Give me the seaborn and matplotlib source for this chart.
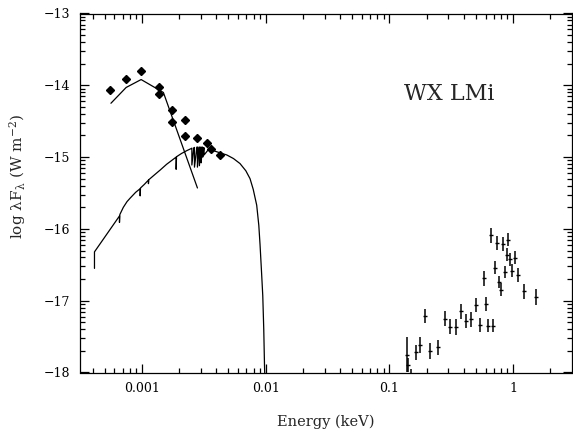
import numpy as np
import pandas as pd
import matplotlib
matplotlib.use("Agg")
import matplotlib.pyplot as plt
from matplotlib.ticker import FixedLocator, LogLocator, NullFormatter, FuncFormatter
import seaborn as sns

# optical / UV photometry (log E [keV], log lambda F_lambda)
opt_logE = [-3.256, -3.127, -3.006, -2.863, -2.863, -2.753, -2.753,
            -2.650, -2.648, -2.554, -2.473, -2.443, -2.370]
opt_logF = [-14.06, -13.91, -13.80, -14.02, -14.12, -14.35, -14.51,
            -14.49, -14.70, -14.73, -14.80, -14.89, -14.97]

# cyclotron-like fit through the optical points
fit_logE = [-3.250, -3.127, -3.006, -2.826, -2.551]
fit_logF = [-14.25, -14.03, -13.92, -14.10, -15.43]

# white dwarf model atmosphere (with absorption lines)
wd_logE = [-3.383, -3.383, -3.181, -3.181, -3.178, -3.150, -3.120, -3.094,
           -3.050, -3.014, -3.014, -3.011, -2.980, -2.947, -2.947, -2.944,
           -2.900, -2.852, -2.800, -2.723, -2.723, -2.720, -2.680, -2.637,
           -2.600, -2.596, -2.596, -2.580, -2.575, -2.575, -2.555, -2.551,
           -2.551, -2.538, -2.535, -2.535, -2.524, -2.521, -2.521, -2.511,
           -2.508, -2.508, -2.500, -2.497, -2.497, -2.460, -2.422, -2.370,
           -2.314, -2.260, -2.207, -2.160, -2.126, -2.100, -2.072, -2.055,
           -2.045, -2.033, -2.023, -2.015, -2.009, -2.004]
wd_logF = [-16.55, -16.32, -15.82, -15.91, -15.80, -15.70, -15.62, -15.57,
           -15.49, -15.44, -15.54, -15.43, -15.38, -15.32, -15.37, -15.315,
           -15.25, -15.18, -15.10, -15.00, -15.17, -14.995, -14.95, -14.91,
           -14.88, -14.875, -15.11, -14.87, -14.865, -15.14, -14.86, -14.86,
           -15.14, -14.86, -14.86, -15.12, -14.86, -14.86, -15.08, -14.86,
           -14.865, -15.00, -14.87, -14.87, -14.97, -14.89, -14.91, -14.94,
           -14.97, -15.02, -15.09, -15.19, -15.30, -15.45, -15.67, -15.95,
           -16.22, -16.60, -16.93, -17.40, -17.90, -18.20]

# X-ray spectrum points
xr_E = [0.1376, 0.1419, 0.150, 0.1637, 0.1784, 0.1934, 0.2137, 0.2478,
        0.2805, 0.3117, 0.3484, 0.380, 0.417, 0.4548, 0.4989, 0.5374,
        0.579, 0.601, 0.631, 0.6844, 0.6594, 0.7104, 0.7373, 0.765,
        0.794, 0.824, 0.855, 0.8877, 0.9158, 0.950, 0.9864, 1.030,
        1.103, 1.225, 1.522]
xr_logF = [-17.75, -17.90, -18.05, -17.72, -17.62, -17.21, -17.70, -17.65,
           -17.25, -17.36, -17.37, -17.15, -17.28, -17.26, -17.06, -17.34,
           -16.69, -17.05, -17.35, -17.35, -16.09, -16.54, -16.20, -16.74,
           -16.85, -16.21, -16.60, -16.36, -16.15, -16.42, -16.58, -16.40,
           -16.64, -16.87, -16.95]
xr_err = [0.25, 0.10, 0.10, 0.10, 0.11, 0.10, 0.11, 0.10,
          0.10, 0.10, 0.11, 0.11, 0.10, 0.10, 0.10, 0.10,
          0.10, 0.10, 0.09, 0.09, 0.10, 0.09, 0.10, 0.09,
          0.09, 0.10, 0.09, 0.09, 0.09, 0.09, 0.09, 0.09,
          0.10, 0.10, 0.11]

x_ticks = [0.001, 0.01, 0.1, 1]
x_ticklabels = ["0.001", "0.01", "0.1", "1"]
y_ticks = [-18, -17, -16, -15, -14, -13]

sns.set_theme(style="ticks")
plt.rcParams["font.family"] = ["DejaVu Serif"]
plt.rcParams["mathtext.fontset"] = "dejavuserif"
plt.rcParams["mathtext.default"] = "regular"

fig, ax = plt.subplots(figsize=(5.73, 4.33), dpi=100)
fig.subplots_adjust(left=80 / 573, right=572 / 573, top=1 - 13.5 / 433, bottom=1 - 372.5 / 433)
ax.set_xscale("log")
ax.set_yscale("log")

wd = pd.DataFrame({"E": 10 ** np.array(wd_logE), "F": 10 ** np.array(wd_logF)})
fit = pd.DataFrame({"E": 10 ** np.array(fit_logE), "F": 10 ** np.array(fit_logF)})
opt = pd.DataFrame({"E": 10 ** np.array(opt_logE), "F": 10 ** np.array(opt_logF)})

sns.lineplot(data=wd, x="E", y="F", sort=False, estimator=None, color="black", lw=0.9, ax=ax)
sns.lineplot(data=fit, x="E", y="F", sort=False, estimator=None, color="black", lw=0.9, ax=ax)
ax.plot(opt["E"], opt["F"], ls="none", marker="D", ms=4, color="black")

xf = 10 ** np.array(xr_logF)
lo = xf - 10 ** (np.array(xr_logF) - np.array(xr_err))
hi = 10 ** (np.array(xr_logF) + np.array(xr_err)) - xf
ax.errorbar(xr_E, xf, yerr=[lo, hi], fmt="_", ms=3, mew=1, color="black",
            ecolor="black", elinewidth=1.1, capsize=0)

ax.set_xlim(10 ** -3.5, 10 ** 0.476)
ax.set_ylim(1e-18, 1e-13)

ax.xaxis.set_major_locator(FixedLocator(x_ticks))
ax.xaxis.set_major_formatter(FuncFormatter(lambda v, p: x_ticklabels[x_ticks.index(v)] if v in x_ticks else ""))
ax.xaxis.set_minor_locator(LogLocator(base=10, subs=np.arange(2, 10), numticks=20))
ax.xaxis.set_minor_formatter(NullFormatter())
ax.yaxis.set_major_locator(FixedLocator([10.0 ** t for t in y_ticks]))
ax.yaxis.set_major_formatter(FuncFormatter(lambda v, p: f"\u2212{abs(round(np.log10(v))):d}"))
ax.yaxis.set_minor_locator(LogLocator(base=10, subs=np.arange(2, 10), numticks=20))
ax.yaxis.set_minor_formatter(NullFormatter())

ax.tick_params(which="both", direction="in", top=True, right=True, colors="black", width=0.9)
ax.tick_params(which="major", length=6.5, labelsize=9, pad=7)
ax.tick_params(which="minor", length=3.5)
for s in ax.spines.values():
    s.set_color("black")
    s.set_linewidth(0.9)

ax.set_xlabel("Energy (keV)", fontsize=10.5, labelpad=14)
ax.set_ylabel(r"log $\lambda F_\lambda$ (W m$^{-2}$)", fontsize=11)
ax.yaxis.set_label_coords(-0.106, 0.547)
ax.text(0.6585, 0.759, "WX LMi", transform=ax.transAxes, fontsize=16, va="baseline", ha="left")

fig.savefig("out.png", dpi=100)
